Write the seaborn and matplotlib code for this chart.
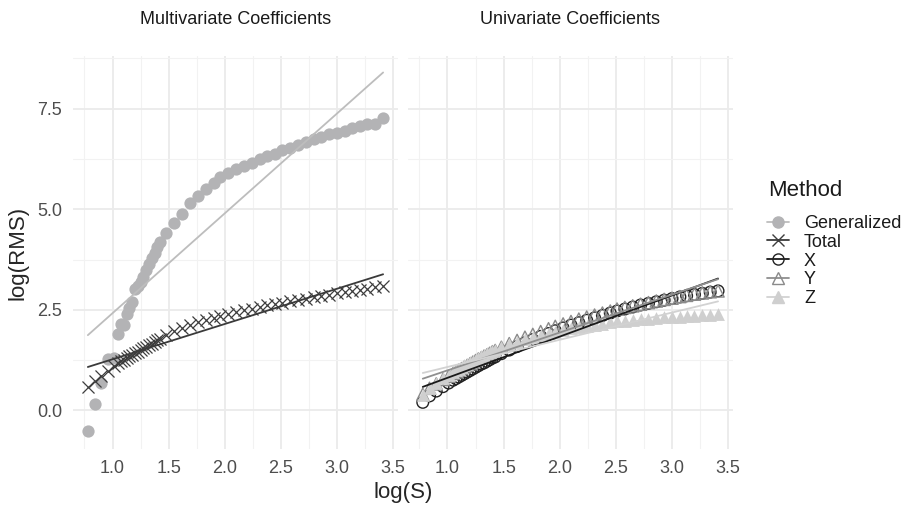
import numpy as np
import pandas as pd
import matplotlib
matplotlib.use('Agg')
import matplotlib.pyplot as plt
from matplotlib.lines import Line2D
from matplotlib.ticker import MultipleLocator, FormatStrFormatter
import seaborn as sns

sns.set_theme(style='white')
plt.rcParams['font.family'] = ['Liberation Sans', 'DejaVu Sans']

# values
log_s = [0.78, 0.84, 0.90, 0.96, 1.01, 1.05, 1.075, 1.10, 1.125, 1.15,
         1.175, 1.20, 1.225, 1.25, 1.275, 1.30, 1.325, 1.35, 1.375, 1.40,
         1.425, 1.48, 1.55, 1.62, 1.69, 1.76, 1.83, 1.90, 1.96, 2.03,
         2.10, 2.17, 2.24, 2.31, 2.38, 2.45, 2.51, 2.58, 2.65, 2.72,
         2.79, 2.86, 2.93, 3.00, 3.07, 3.13, 3.20, 3.27, 3.34, 3.41]

generalized = [-0.52, 0.17, 0.68, 1.28, 1.30, 1.90, 2.15, 2.12, 2.40, 2.55,
               2.70, 3.02, 3.10, 3.20, 3.32, 3.50, 3.65, 3.80, 3.92, 4.05,
               4.18, 4.41, 4.66, 4.89, 5.16, 5.33, 5.51, 5.66, 5.80, 5.90,
               6.00, 6.08, 6.16, 6.24, 6.33, 6.38, 6.47, 6.53, 6.60, 6.67,
               6.74, 6.80, 6.87, 6.90, 6.95, 7.02, 7.07, 7.13, 7.11, 7.26]

total = [0.58, 0.72, 0.86, 0.99, 1.10, 1.18, 1.22, 1.26, 1.30, 1.34,
         1.38, 1.42, 1.46, 1.50, 1.54, 1.58, 1.62, 1.66, 1.70, 1.74,
         1.78, 1.88, 1.97, 2.05, 2.12, 2.19, 2.25, 2.30, 2.35, 2.40,
         2.45, 2.49, 2.53, 2.57, 2.61, 2.65, 2.68, 2.72, 2.75, 2.78,
         2.82, 2.85, 2.88, 2.91, 2.94, 2.97, 3.00, 3.03, 3.06, 3.10]

x_coef = [0.20, 0.36, 0.48, 0.59, 0.68, 0.75, 0.79, 0.83, 0.87, 0.91,
          0.95, 0.99, 1.03, 1.07, 1.11, 1.15, 1.18, 1.22, 1.26, 1.30,
          1.33, 1.41, 1.50, 1.59, 1.68, 1.76, 1.84, 1.91, 1.98, 2.05,
          2.12, 2.18, 2.24, 2.30, 2.36, 2.42, 2.47, 2.52, 2.57, 2.62,
          2.66, 2.70, 2.74, 2.78, 2.82, 2.85, 2.88, 2.91, 2.94, 2.97]

y_coef = [0.40, 0.55, 0.66, 0.77, 0.85, 0.92, 0.96, 1.00, 1.04, 1.08,
          1.12, 1.16, 1.20, 1.24, 1.28, 1.31, 1.35, 1.38, 1.42, 1.46,
          1.49, 1.57, 1.66, 1.74, 1.82, 1.89, 1.96, 2.03, 2.09, 2.15,
          2.21, 2.27, 2.32, 2.37, 2.42, 2.47, 2.52, 2.56, 2.60, 2.64,
          2.68, 2.72, 2.76, 2.79, 2.83, 2.86, 2.89, 2.92, 2.95, 2.97]

z_coef = [0.38, 0.55, 0.68, 0.80, 0.89, 0.96, 1.00, 1.04, 1.08, 1.12,
          1.16, 1.20, 1.24, 1.28, 1.31, 1.35, 1.38, 1.42, 1.45, 1.48,
          1.51, 1.58, 1.65, 1.71, 1.77, 1.82, 1.87, 1.92, 1.96, 2.00,
          2.04, 2.07, 2.10, 2.13, 2.16, 2.19, 2.21, 2.23, 2.25, 2.27,
          2.28, 2.30, 2.31, 2.32, 2.33, 2.34, 2.35, 2.36, 2.37, 2.39]

methods = ['Generalized', 'Total', 'X', 'Y', 'Z']
colors = {'Generalized': '#b3b3b5', 'Total': '#3d3d3d', 'X': '#222222',
          'Y': '#8a8a8a', 'Z': '#cfcfcf'}
line_colors = {'Generalized': '#bdbdbd', 'Total': '#3a3a3a', 'X': '#1a1a1a',
               'Y': '#8f8f8f', 'Z': '#d2d2d2'}

df = pd.DataFrame({'log_s': log_s * 5,
                   'rms': generalized + total + x_coef + y_coef + z_coef,
                   'Method': np.repeat(methods, len(log_s))})

fig = plt.figure(figsize=(9.05, 5.08), dpi=100)
ax1 = fig.add_axes([0.0807, 0.1161, 0.359, 0.7737])
ax2 = fig.add_axes([0.4508, 0.1161, 0.359, 0.7737])

point_style = {
    'Generalized': dict(marker='o', s=78, color=colors['Generalized'], linewidth=0),
    'Total': dict(marker='x', s=75, color=colors['Total'], linewidth=0.9),
    'X': dict(marker='o', s=70, facecolor='none', edgecolor=colors['X'], linewidth=1.0),
    'Y': dict(marker='^', s=78, facecolor='none', edgecolor=colors['Y'], linewidth=1.0),
    'Z': dict(marker='^', s=85, color=colors['Z'], linewidth=0),
}

panels = [(ax1, ['Generalized', 'Total'], 'Multivariate Coefficients'),
          (ax2, ['X', 'Y', 'Z'], 'Univariate Coefficients')]

for ax, meths, title in panels:
    for m in meths:
        sub = df[df['Method'] == m]
        sns.scatterplot(data=sub, x='log_s', y='rms', ax=ax, legend=False,
                        zorder=3, **point_style[m])
    for m in meths:
        sub = df[df['Method'] == m]
        sns.regplot(data=sub, x='log_s', y='rms', ax=ax, scatter=False, ci=None,
                    color=line_colors[m], line_kws={'linewidth': 1.3, 'zorder': 4})
    ax.set_xlim(0.648, 3.542)
    ax.set_ylim(-0.96, 8.81)
    ax.xaxis.set_major_locator(MultipleLocator(0.5))
    ax.xaxis.set_minor_locator(MultipleLocator(0.25))
    ax.yaxis.set_major_locator(MultipleLocator(2.5))
    ax.yaxis.set_minor_locator(MultipleLocator(1.25))
    ax.grid(which='major', color='#ebebeb', linewidth=1.3)
    ax.grid(which='minor', color='#f2f2f2', linewidth=0.8)
    ax.set_axisbelow(True)
    for sp in ax.spines.values():
        sp.set_visible(False)
    ax.tick_params(which='both', length=0, labelsize=13, labelcolor='#4d4d4d', pad=8)
    ax.set_xlabel('')
    ax.set_ylabel('')
    ax.set_title(title, fontsize=13, color='#1a1a1a', pad=23)

ax1.yaxis.set_major_formatter(FormatStrFormatter('%.1f'))
ax2.tick_params(axis='y', labelleft=False)

fig.text(0.446, 0.03, 'log(S)', ha='center', va='center', fontsize=16)
fig.text(0.02, 0.503, 'log(RMS)', ha='center', va='center', rotation=90, fontsize=16)

# legend
fig.text(768 / 905, 1 - 190 / 508, 'Method', ha='left', va='center', fontsize=16,
         color='#1a1a1a')
handles = []
for m in methods:
    st = point_style[m]
    if st.get('facecolor') == 'none':
        mfc, mec = 'none', st['edgecolor']
    else:
        mfc, mec = st['color'], st['color']
    handles.append(Line2D([0], [0], color=line_colors[m], linewidth=1.3,
                          marker=st['marker'], markersize=8,
                          markerfacecolor=mfc, markeredgecolor=mec,
                          markeredgewidth=1.0))
leg = fig.legend(handles, methods, loc='upper left',
                 bbox_to_anchor=(767 / 905, 1 - 215 / 508), frameon=False,
                 fontsize=13, labelspacing=0.1, handlelength=1.2,
                 handletextpad=0.85, borderpad=0, borderaxespad=0)
for t in leg.get_texts():
    t.set_color('#1a1a1a')

fig.savefig('out.png', dpi=100)
